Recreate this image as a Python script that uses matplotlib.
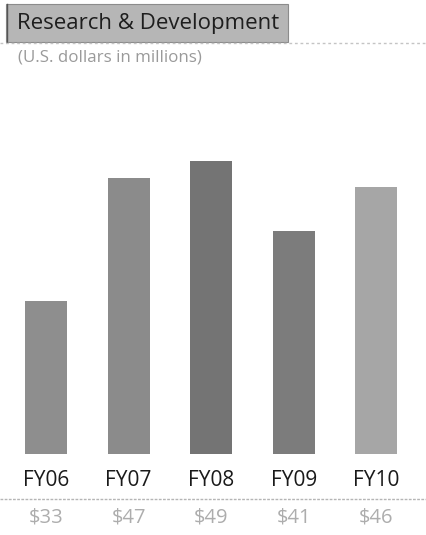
import matplotlib
matplotlib.use("Agg")
import matplotlib.pyplot as plt
import matplotlib.transforms as mtransforms
from matplotlib.patches import Rectangle
from matplotlib.lines import Line2D

# Research & development spend by fiscal year (U.S. dollars in millions)
years = ["FY06", "FY07", "FY08", "FY09", "FY10"]
spend = [33, 47, 49, 41, 46]
value_labels = [f"${v}" for v in spend]

bar_colors = ["#8e8e8e", "#8b8b8b", "#747474", "#7c7c7c", "#a6a6a6"]

W, H = 426, 535
fig = plt.figure(figsize=(W / 100, H / 100), dpi=100)
fig.patch.set_facecolor("white")
plt.rcParams["font.family"] = ["Open Sans", "DejaVu Sans"]


def fy(py):
    """Figure fraction for a pixel row measured from the top."""
    return 1 - py / H


def fx(px):
    return px / W


# Plot area: baseline at row 454, bars spaced ~82.6 px apart
base_px, top_px = 454, 100
px_per_unit = 8.75
y0 = 15.5
ax = fig.add_axes([0, fy(base_px), 1, (base_px - top_px) / H])
spacing = 82.6
ax.set_xlim(-46 / spacing, 4 + (W - 376.5) / spacing)
ax.set_ylim(y0, y0 + (base_px - top_px) / px_per_unit)
ax.axis("off")

xs = list(range(len(years)))
ax.bar(xs, spend, bottom=0, width=42 / spacing, color=bar_colors, linewidth=0)

# Category and value labels beneath the bars
trans = mtransforms.blended_transform_factory(ax.transData, fig.transFigure)
for x, yr, lab in zip(xs, years, value_labels):
    ax.text(x, fy(481), yr, transform=trans, ha="center", va="center",
            fontsize=15, color="#1a1a1a", clip_on=False)
    ax.text(x, fy(518), lab, transform=trans, ha="center", va="center",
            fontsize=14.5, color="#adadad", clip_on=False)

# Separator between category names and values
fig.add_artist(Line2D([0, 1], [fy(499), fy(499)], transform=fig.transFigure,
                      color="#b5b5b5", linewidth=1, linestyle=(0, (2, 1))))

# Title panel
fig.add_artist(Rectangle((fx(6), fy(42)), fx(288) - fx(6), fy(4) - fy(42),
                         transform=fig.transFigure, facecolor="#b6b6b6",
                         edgecolor="#8c8c8c", linewidth=0.8))
fig.add_artist(Line2D([fx(6.5), fx(6.5)], [fy(42), fy(4)], transform=fig.transFigure,
                      color="#555555", linewidth=1))
fig.add_artist(Line2D([0, 1], [fy(43), fy(43)], transform=fig.transFigure,
                      color="#c4c4c4", linewidth=1, linestyle=(0, (2, 2))))
fig.text(fx(17), fy(24), "Research & Development", ha="left", va="center",
         fontsize=16, color="#1e1e1e")
fig.text(fx(18), fy(58), "(U.S. dollars in millions)", ha="left", va="center",
         fontsize=12.2, color="#9a9a9a")

fig.savefig("out.png", dpi=100, facecolor="white")
